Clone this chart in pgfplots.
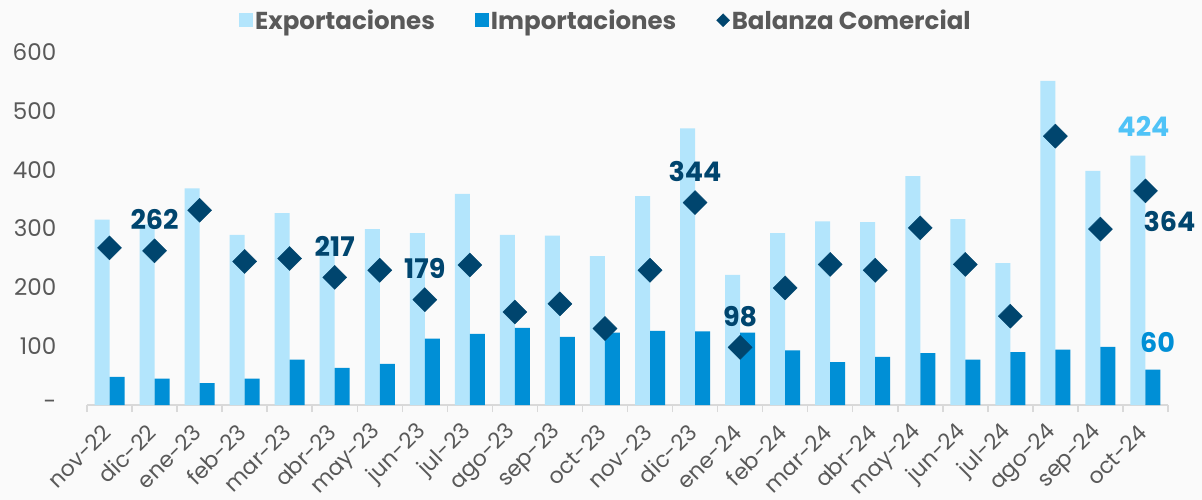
\documentclass[border=0pt]{standalone}
\usepackage{fontspec}
\setmainfont{Poppins}
\usepackage{pgfplots}
\pgfplotsset{compat=1.18}
\usetikzlibrary{backgrounds}
\definecolor{expc}{HTML}{B3E5FC}
\definecolor{impc}{HTML}{008FD6}
\definecolor{balc}{HTML}{00456E}
\definecolor{labexp}{HTML}{4FC3F7}
\definecolor{txtc}{HTML}{595959}
\definecolor{axc}{HTML}{D9D9D9}
\definecolor{bgc}{HTML}{FAFAFA}
\newcommand\tickfont{\fontsize{23bp}{25bp}\selectfont}
\newcommand\legfont{\fontsize{24.5bp}{26bp}\selectfont\bfseries}
\newcommand\labfont{\fontsize{27bp}{30bp}\selectfont\bfseries}
\begin{document}
\begin{tikzpicture}[background rectangle/.style={fill=bgc}, show background rectangle, inner frame sep=0pt]
\path[use as bounding box] (-87bp,-95bp) rectangle (1115bp,405bp);
\begin{axis}[
  scale only axis, width=1081bp, height=353bp,
  xmin=-0.5, xmax=23.5, ymin=0, ymax=600,
  axis x line*=bottom, axis y line*=left,
  y axis line style={draw=none},
  x axis line style={draw=axc, line width=1.5bp, -},
  tick align=outside,
  xtick={0,...,23},
  xticklabels={nov-22,dic-22,ene-23,feb-23,mar-23,abr-23,may-23,jun-23,jul-23,ago-23,sep-23,oct-23,nov-23,dic-23,ene-24,feb-24,mar-24,abr-24,may-24,jun-24,jul-24,ago-24,sep-24,oct-24},
  major x tick style={draw=none},
  minor xtick={-0.5,0.5,...,23.5},
  minor tick length=7bp,
  minor x tick style={draw=axc, line width=1.5bp},
  ytick={0,100,200,300,400,500,600},
  yticklabels={-\hspace{23bp},100,200,300,400,500,600},
  major y tick style={draw=none},
  tick label style={font=\tickfont, text=txtc},
  every y tick label/.append style={anchor=east, xshift=-23bp},
  every x tick label/.append style={yshift=-17bp, rotate=45, anchor=east, font=\fontsize{22bp}{24bp}\selectfont},
  clip=false,
  legend style={at={(0.48,1.09)}, anchor=center, legend columns=3, draw=none, fill=none,
    font=\legfont, text=txtc,
    /tikz/every even column/.append style={column sep=38bp}},
]
\addplot[ybar, bar width=15bp, bar shift=-7.5bp, fill=expc, draw=none,
  legend image code/.code={\fill[expc] (-7bp,-7bp) rectangle (7bp,7bp);}]
  coordinates {(0,315)(1,307)(2,368)(3,289)(4,326)(5,280)(6,299)(7,292)(8,359)(9,289)(10,288)(11,253)(12,355)(13,470)(14,221)(15,292)(16,312)(17,311)(18,389)(19,316)(20,241)(21,551)(22,398)(23,424)};
\addlegendentry{Exportaciones}
\addplot[ybar, bar width=15bp, bar shift=7.5bp, fill=impc, draw=none,
  legend image code/.code={\fill[impc] (-7bp,-7bp) rectangle (7bp,7bp);}]
  coordinates {(0,48)(1,45)(2,37)(3,45)(4,77)(5,63)(6,70)(7,113)(8,121)(9,131)(10,116)(11,123)(12,126)(13,125)(14,123)(15,93)(16,73)(17,82)(18,88)(19,77)(20,90)(21,94)(22,99)(23,60)};
\addlegendentry{Importaciones}
\addplot[only marks, mark=square*, mark size=8.5bp, mark options={rotate=45, fill=balc, draw=balc},
  legend image code/.code={\fill[balc] (0.5bp,6.5bp) -- (7bp,0bp) -- (0.5bp,-6.5bp) -- (-6bp,0bp) -- cycle;}]
  coordinates {(0,267)(1,262)(2,331)(3,244)(4,249)(5,217)(6,229)(7,179)(8,238)(9,158)(10,172)(11,130)(12,229)(13,344)(14,98)(15,199)(16,239)(17,229)(18,301)(19,239)(20,151)(21,457)(22,299)(23,364)};
\addlegendentry{Balanza Comercial}
% data labels
\addplot[forget plot, draw=none, mark=none, nodes near coords, point meta=explicit symbolic,
  nodes near coords style={font=\labfont, text=balc, anchor=center, yshift=31bp}]
  coordinates {(1,262)[262] (5,217)[217] (7,179)[179] (13,344)[344] (14,98)[98]};
\addplot[forget plot, draw=none, mark=none, nodes near coords, point meta=explicit symbolic,
  nodes near coords style={font=\labfont, text=balc, anchor=center, xshift=24bp, yshift=-31bp}]
  coordinates {(23,364)[364]};
\addplot[forget plot, draw=none, mark=none, nodes near coords, point meta=explicit symbolic,
  nodes near coords style={font=\labfont, text=labexp, anchor=center, xshift=-2bp, yshift=29bp}]
  coordinates {(23,424)[424]};
\addplot[forget plot, draw=none, mark=none, nodes near coords, point meta=explicit symbolic,
  nodes near coords style={font=\labfont, text=impc, anchor=center, xshift=12bp, yshift=27bp}]
  coordinates {(23,60)[60]};
\end{axis}
\end{tikzpicture}
\end{document}
